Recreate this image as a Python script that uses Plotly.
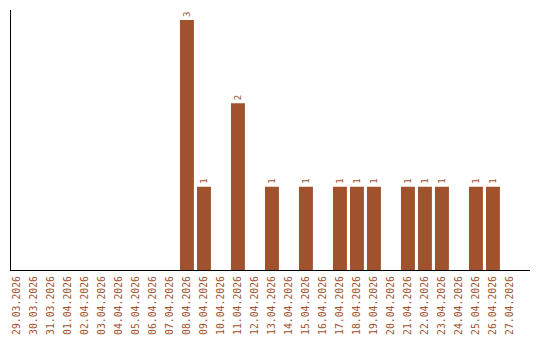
import plotly.graph_objects as go

dates = ["29.03.2026", "30.03.2026", "31.03.2026", "01.04.2026", "02.04.2026", "03.04.2026",
         "04.04.2026", "05.04.2026", "06.04.2026", "07.04.2026", "08.04.2026", "09.04.2026",
         "10.04.2026", "11.04.2026", "12.04.2026", "13.04.2026", "14.04.2026", "15.04.2026",
         "16.04.2026", "17.04.2026", "18.04.2026", "19.04.2026", "20.04.2026", "21.04.2026",
         "22.04.2026", "23.04.2026", "24.04.2026", "25.04.2026", "26.04.2026", "27.04.2026"]
counts = [0, 0, 0, 0, 0, 0, 0, 0, 0, 0, 3, 1, 0, 2, 0, 1, 0, 1, 0, 1, 1, 1, 0, 1, 1, 1, 0, 1, 1, 0]

color = "#A0522D"
labels = [str(v) if v > 0 else "" for v in counts]

fig = go.Figure(go.Bar(
    x=dates, y=counts, marker_color=color, marker_line_width=0,
    text=labels, textposition="outside", textangle=-90,
    textfont=dict(family="DejaVu Sans Mono", size=9, color=color),
    cliponaxis=False, width=0.82,
))
fig.update_layout(
    width=540, height=340, margin=dict(l=11, r=10, t=10, b=70),
    paper_bgcolor="white", plot_bgcolor="white", showlegend=False,
    uniformtext=dict(minsize=9),
)
fig.update_xaxes(type="category", range=[-0.35, 30.18], showgrid=False,
                 showline=True, linecolor="black", linewidth=1.2,
                 tickangle=-90, tickfont=dict(family="DejaVu Sans Mono", size=9.8, color=color),
                 ticks="", ticklabelstandoff=1, automargin=False, fixedrange=True)
fig.update_yaxes(range=[0, 3.12], showgrid=False, zeroline=False, showline=True,
                 linecolor="black", linewidth=1.2, showticklabels=False, ticks="",
                 automargin=False)
fig.write_html("out.html")
